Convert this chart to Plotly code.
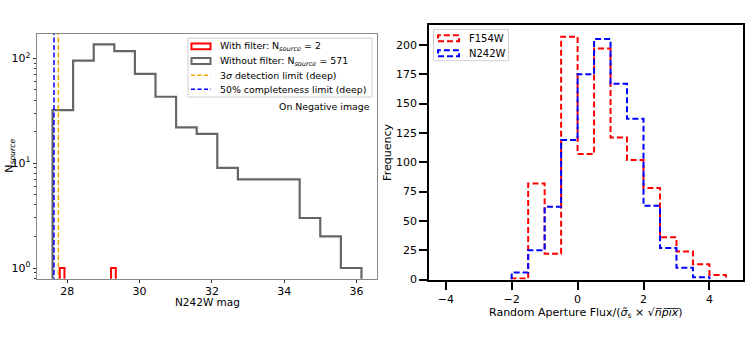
import plotly.graph_objects as go

# ---------------- data ----------------
# left panel: N242W magnitudes on the negative image
mag_edges = [27.59, 28.16, 28.73, 29.30, 29.87, 30.44, 31.01, 31.58,
             32.15, 32.72, 33.29, 33.86, 34.43, 35.00, 35.57, 36.14]
mag_counts_nofilter = [32, 95, 136, 117, 71, 43, 22, 19, 9, 7, 7, 7, 3, 2, 1]
mag_filter_lo = [27.79, 29.21]
mag_filter_hi = [27.92, 29.34]
mag_counts_filter = [1, 1]
limit_3sigma = 27.75
limit_50pct = 27.63

# right panel: random aperture flux distribution
flux_edges_f154w = [-2.0, -1.5, -1.0, -0.5, 0.0, 0.5, 1.0, 1.5, 2.0, 2.5, 3.0, 3.5, 4.0, 4.5]
flux_counts_f154w = [1, 82, 22, 207, 107, 197, 121, 102, 78, 36, 24, 13, 4]
flux_edges_n242w = [-2.0, -1.5, -1.0, -0.5, 0.0, 0.5, 1.0, 1.5, 2.0, 2.5, 3.0, 3.5, 4.0]
flux_counts_n242w = [6, 25, 62, 119, 175, 205, 167, 137, 63, 27, 10, 2]

W, H = 747, 350
FONT = "DejaVu Sans"
LEG = 9.4


def step_path(edges, counts, floor):
    xs, ys = [edges[0]], [floor]
    for i, c in enumerate(counts):
        xs += [edges[i], edges[i + 1]]
        ys += [c, c]
    xs.append(edges[-1])
    ys.append(floor)
    return xs, ys


def px(x):
    return x / W


def py(y):
    return 1 - y / H


fig = go.Figure()

# -----------------------
# LEFT PANEL
# -----------------------
gx, gy = step_path(mag_edges, mag_counts_nofilter, 1e-3)
fig.add_trace(go.Scatter(x=gx, y=gy, mode="lines", xaxis="x", yaxis="y",
                         line=dict(color="#666666", width=2.2), showlegend=False))

rx, ry = [], []
for lo, hi, c in zip(mag_filter_lo, mag_filter_hi, mag_counts_filter):
    rx += [lo, lo, hi, hi, None]
    ry += [1e-3, c, c, 1e-3, None]
fig.add_trace(go.Scatter(x=rx, y=ry, mode="lines", xaxis="x", yaxis="y",
                         line=dict(color="red", width=2), showlegend=False))

fig.add_trace(go.Scatter(x=[limit_3sigma, limit_3sigma], y=[1e-3, 1e4], mode="lines",
                         xaxis="x", yaxis="y", showlegend=False,
                         line=dict(color="orange", width=1.5, dash="5px,2.5px")))
fig.add_trace(go.Scatter(x=[limit_50pct, limit_50pct], y=[1e-3, 1e4], mode="lines",
                         xaxis="x", yaxis="y", showlegend=False,
                         line=dict(color="blue", width=1.5, dash="5px,2.5px")))

# -----------------------
# RIGHT PANEL
# -----------------------
fx, fy = step_path(flux_edges_f154w, flux_counts_f154w, 0)
fig.add_trace(go.Scatter(x=fx, y=fy, mode="lines", xaxis="x2", yaxis="y2", showlegend=False,
                         line=dict(color="red", width=2, dash="6px,3px")))
nx, ny = step_path(flux_edges_n242w, flux_counts_n242w, 0)
fig.add_trace(go.Scatter(x=nx, y=ny, mode="lines", xaxis="x2", yaxis="y2", showlegend=False,
                         line=dict(color="blue", width=2, dash="6px,3px")))

# -----------------------
# LEGENDS (drawn by hand, matplotlib style)
# -----------------------
shapes = []
annotations = []

shapes.append(dict(type="rect", xref="paper", yref="paper",
                   x0=px(188), x1=px(372), y0=py(99), y1=py(39),
                   line=dict(color="#d0d0d0", width=1), fillcolor="rgba(255,255,255,0.85)"))
left_rows = [47.3, 62.3, 76.7, 91.0]
left_labels = ["With filter: N<sub><i>source</i></sub> = 2",
               "Without filter: N<sub><i>source</i></sub> = 571",
               "3<i>σ</i> detection limit (deep)",
               "50% completeness limit (deep)"]
shapes.append(dict(type="rect", xref="paper", yref="paper",
                   x0=px(191.5), x1=px(210.5), y0=py(left_rows[0] + 3), y1=py(left_rows[0] - 3),
                   line=dict(color="red", width=2)))
shapes.append(dict(type="rect", xref="paper", yref="paper",
                   x0=px(191.5), x1=px(210.5), y0=py(left_rows[1] + 3), y1=py(left_rows[1] - 3),
                   line=dict(color="#666666", width=2)))
shapes.append(dict(type="line", xref="paper", yref="paper",
                   x0=px(191), x1=px(211), y0=py(left_rows[2]), y1=py(left_rows[2]),
                   line=dict(color="orange", width=1.5, dash="4px,2.5px")))
shapes.append(dict(type="line", xref="paper", yref="paper",
                   x0=px(191), x1=px(211), y0=py(left_rows[3]), y1=py(left_rows[3]),
                   line=dict(color="blue", width=1.5, dash="4px,2.5px")))
for yy, lab in zip(left_rows, left_labels):
    annotations.append(dict(xref="paper", yref="paper", x=px(218), y=py(yy), text=lab,
                            showarrow=False, xanchor="left", yanchor="middle",
                            font=dict(size=LEG, color="black")))
annotations.append(dict(xref="paper", yref="paper", x=px(372), y=py(109),
                        text="On Negative image", showarrow=False,
                        xanchor="right", yanchor="middle", font=dict(size=LEG, color="black")))

shapes.append(dict(type="rect", xref="paper", yref="paper",
                   x0=px(433.5), x1=px(508.5), y0=py(62), y1=py(30),
                   line=dict(color="#d0d0d0", width=1), fillcolor="rgba(255,255,255,0.85)"))
right_rows = [39.0, 54.3]
right_labels = ["F154W", "N242W"]
right_colors = ["red", "blue"]
for yy, lab, col in zip(right_rows, right_labels, right_colors):
    shapes.append(dict(type="rect", xref="paper", yref="paper",
                       x0=px(438), x1=px(459), y0=py(yy + 3), y1=py(yy - 3),
                       line=dict(color=col, width=2, dash="6px,3px")))
    annotations.append(dict(xref="paper", yref="paper", x=px(467), y=py(yy), text=lab,
                            showarrow=False, xanchor="left", yanchor="middle",
                            font=dict(size=10, color="black")))

# axis titles
annotations.append(dict(xref="paper", yref="paper", x=px(207), y=py(308.5), text="N242W mag",
                        showarrow=False, xanchor="center", yanchor="middle",
                        font=dict(size=10.5, color="black")))
annotations.append(dict(xref="paper", yref="paper", x=px(10), y=py(159),
                        text="N<sub><i>source</i></sub>", textangle=-90,
                        showarrow=False, xanchor="center", yanchor="middle",
                        font=dict(size=11, color="black")))
annotations.append(dict(xref="paper", yref="paper", x=px(586), y=py(319),
                        text="Random Aperture Flux/(<i>σ̃<sub>s</sub></i> × √<i>n\u0305p\u0305i\u0305x\u0305</i>)",
                        showarrow=False, xanchor="center", yanchor="middle",
                        font=dict(size=11, color="black")))
annotations.append(dict(xref="paper", yref="paper", x=px(388), y=py(156), text="Frequency",
                        textangle=-90, showarrow=False, xanchor="center", yanchor="middle",
                        font=dict(size=11, color="black")))

minor_log = [v * 10 ** k for k in (-1, 0, 1, 2) for v in range(2, 10)]

# -----------------------
# LAYOUT
# -----------------------
fig.update_layout(
    width=W, height=H,
    margin=dict(l=0, r=0, t=0, b=0),
    plot_bgcolor="white",
    paper_bgcolor="white",
    font=dict(family=FONT, color="black", size=11),
    showlegend=False,
    shapes=shapes,
    annotations=annotations,

    xaxis=dict(
        domain=[px(37), px(377)], anchor="y",
        range=[27.16, 36.57],
        tickvals=[28, 30, 32, 34, 36],
        showgrid=False, zeroline=False,
        showline=True, linecolor="#888888", linewidth=1, mirror=True,
        ticks="outside", ticklen=3.5, tickcolor="#333333",
        ticklabelstandoff=-2,
        tickfont=dict(size=11),
    ),
    yaxis=dict(
        domain=[1 - 284.5 / H, 1 - 34.5 / H], anchor="x",
        type="log", range=[-0.103, 2.234],
        tickvals=[1, 10, 100],
        ticktext=["10<sup>0</sup>", "10<sup>1</sup>", "10<sup>2</sup>"],
        showgrid=False, zeroline=False,
        showline=True, linecolor="#888888", linewidth=1, mirror=True,
        ticks="outside", ticklen=3.5, tickcolor="#333333",
        minor=dict(tickvals=minor_log, ticks="outside", ticklen=2, tickcolor="#333333"),
        tickfont=dict(size=11),
    ),

    xaxis2=dict(
        domain=[px(429.3), px(742.7)], anchor="y2",
        range=[-4.5, 5.01],
        tickvals=[-4, -2, 0, 2, 4],
        showgrid=False, zeroline=False,
        showline=True, linecolor="black", linewidth=2, mirror=True,
        ticks="outside", ticklen=8, tickwidth=1.5, tickcolor="black",
        tickfont=dict(size=11),
    ),
    yaxis2=dict(
        domain=[1 - 285.3 / H, 1 - 25 / H], anchor="x2",
        range=[0, 217.4],
        tickvals=[0, 25, 50, 75, 100, 125, 150, 175, 200],
        showgrid=False, zeroline=False,
        showline=True, linecolor="black", linewidth=2, mirror=True,
        ticks="outside", ticklen=8, tickwidth=1.5, tickcolor="black",
        tickfont=dict(size=11),
    ),
)

fig.write_html("out.html", config={"displayModeBar": False},
               post_script="document.body.style.margin='0';")
